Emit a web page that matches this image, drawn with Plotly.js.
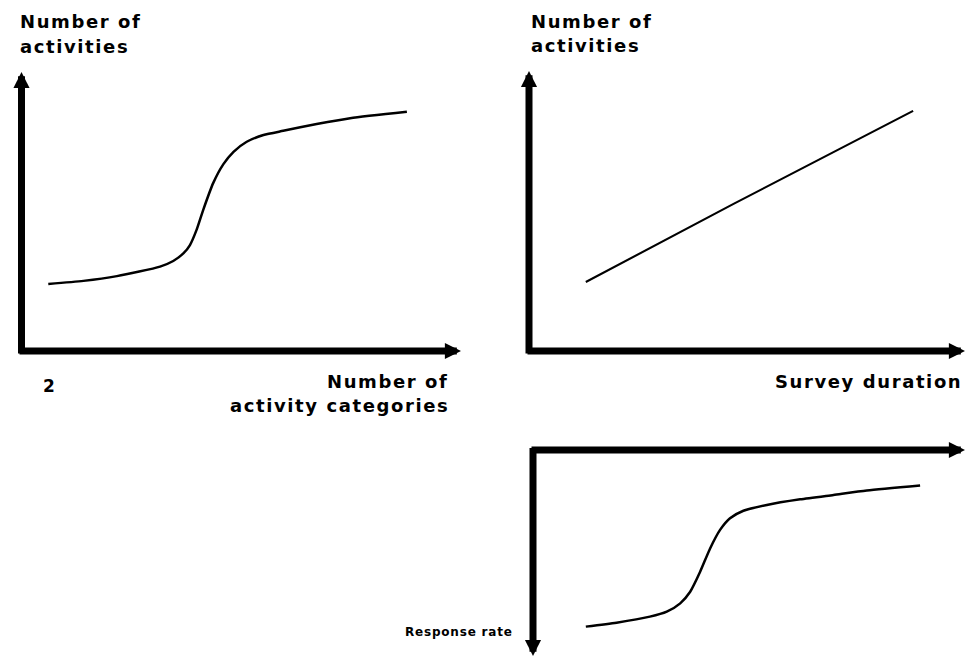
<!DOCTYPE html>
<html>
<head>
<meta charset="utf-8">
<script src="https://cdn.plot.ly/plotly-3.0.1.min.js"></script>
<style>
  html, body { margin: 0; padding: 0; background: #fff; }
  #chart { width: 966px; height: 657px; }
  .annotation-text { letter-spacing: 1.6px; }
</style>
</head>
<body>
<div id="chart"></div>
<script>
// ---- Data (schematic values, arbitrary 0-100 units) ----
// Panel 1: Number of activities vs number of activity categories (S-curve)
const catX = [6.2, 14.2, 21.8, 31.6, 34.6, 36.9, 38.4, 39.9, 41.4, 43.7, 46.0, 48.3, 51.3, 55.1, 59.6, 67.2, 74.8, 87.7];
const catActivities = [24.3, 25.4, 27.1, 30.5, 32.5, 35.2, 38.2, 43.6, 50.7, 60.4, 67.1, 71.5, 75.1, 77.5, 79.0, 81.4, 83.5, 85.8];

// Panel 2: Number of activities vs survey duration (straight line)
const durationX = [13.0, 46.7, 87.9];
const durationActivities = [25.0, 52.8, 86.1];

// Panel 3: Response rate (axis pointing down) vs number of activity categories
const respX = [12.2, 19.3, 27.0, 30.9, 34.0, 36.3, 38.6, 40.9, 43.2, 45.5, 48.6, 54.0, 61.7, 69.4, 77.1, 89.4];
const respRate = [85.4, 83.5, 80.6, 78.2, 74.2, 68.6, 59.0, 47.8, 38.9, 33.3, 29.7, 26.9, 24.2, 22.1, 20.0, 17.6];

// Text labels
const yLabel1 = ["Number of", "activities"];
const xLabel1 = ["Number of", "activity categories"];
const xTick1 = "2";
const yLabel2 = ["Number of", "activities"];
const xLabel2 = "Survey duration";
const yLabel3 = "Response rate";

// ---- Layout helpers (pixel -> paper) ----
const W = 966, H = 657;
const px = v => v / W;
const py = v => 1 - v / H;

const lineStyle = { color: '#000', width: 2.5, shape: 'spline', smoothing: 0.6 };

const traces = [
  { x: catX, y: catActivities, xaxis: 'x', yaxis: 'y', mode: 'lines', line: lineStyle, hoverinfo: 'skip' },
  { x: durationX, y: durationActivities, xaxis: 'x2', yaxis: 'y2', mode: 'lines', line: { color: '#000', width: 2.1 }, hoverinfo: 'skip' },
  { x: respX, y: respRate, xaxis: 'x3', yaxis: 'y3', mode: 'lines', line: lineStyle, hoverinfo: 'skip' }
];

const hidden = { visible: false, fixedrange: true };

const FAM = 'DejaVu Sans, Liberation Sans, Arial, sans-serif';
const fontBig = { family: FAM, size: 18, color: '#000', weight: 'bold' };
const fontSmall = { family: FAM, size: 12, color: '#000', weight: 'bold' };

function arrow(tipX, tipY, tailX, tailY) {
  return {
    xref: 'paper', yref: 'paper', x: px(tipX), y: py(tipY),
    axref: 'pixel', ayref: 'pixel', ax: tailX - tipX, ay: tailY - tipY,
    text: '', showarrow: true, arrowhead: 2, arrowsize: 0.46, arrowwidth: 7,
    arrowcolor: '#000', standoff: 0, startstandoff: 0
  };
}

function label(text, x, yCenter, anchor, font) {
  return {
    xref: 'paper', yref: 'paper', x: px(x), y: py(yCenter),
    xanchor: anchor, yanchor: 'middle', align: anchor,
    text: '<b>' + text + '</b>', showarrow: false, font: font, borderpad: 0
  };
}

const annotations = [
  // Panel 1 axes
  arrow(21.5, 72, 21.5, 355),
  arrow(461, 351, 18, 351),
  // Panel 2 axes
  arrow(529, 71, 529, 355),
  arrow(965, 351, 526, 351),
  // Panel 3 axes
  arrow(965, 450, 530, 450),
  arrow(533, 656, 533, 446.5),
  // Panel 1 texts
  label(yLabel1[0], 19, 21.4, 'left', fontBig),
  label(yLabel1[1], 19, 46.4, 'left', fontBig),
  label(xLabel1[0], 449, 381.4, 'right', fontBig),
  label(xLabel1[1], 450, 405.4, 'right', fontBig),
  label('<span style="letter-spacing:0px">' + xTick1 + '</span>', 48.5, 386, 'center', { ...fontBig, size: 17 }),
  // Panel 2 texts
  label(yLabel2[0], 530, 21.4, 'left', fontBig),
  label(yLabel2[1], 530, 45.4, 'left', fontBig),
  label(xLabel2, 963, 381.4, 'right', fontBig),
  // Panel 3 text
  label('<span style="letter-spacing:0.8px">' + yLabel3 + '</span>', 514, 632, 'right', fontSmall)
];

const layout = {
  width: W, height: H,
  margin: { l: 0, r: 0, t: 0, b: 0, pad: 0 },
  paper_bgcolor: '#fff', plot_bgcolor: 'rgba(0,0,0,0)',
  showlegend: false,
  xaxis:  { ...hidden, domain: [px(21), px(461)], range: [0, 100] },
  yaxis:  { ...hidden, domain: [py(352), py(72)], range: [0, 100] },
  xaxis2: { ...hidden, domain: [px(529), px(966)], range: [0, 100] },
  yaxis2: { ...hidden, domain: [py(352), py(72)], range: [0, 100] },
  xaxis3: { ...hidden, domain: [px(533), px(966)], range: [0, 100] },
  yaxis3: { ...hidden, domain: [py(657), py(449)], range: [100, 0] },
  annotations: annotations
};

Plotly.newPlot('chart', traces, layout, { staticPlot: true, displayModeBar: false });
</script>
</body>
</html>
